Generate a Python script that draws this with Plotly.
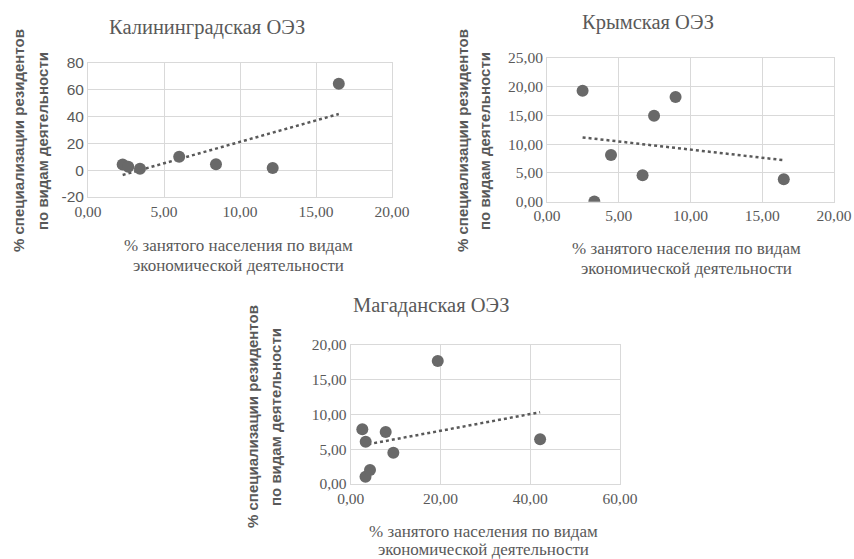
import numpy as np
import plotly.graph_objects as go

# ---- data ----
kal_x = [2.28, 2.65, 3.42, 6.00, 8.42, 12.15, 16.50]
kal_y = [4.3, 2.5, 1.0, 10.0, 4.5, 1.7, 64.6]

krym_x = [2.48, 3.30, 4.46, 6.66, 7.46, 8.96, 16.50]
krym_y = [19.27, 0.05, 8.10, 4.58, 14.93, 18.18, 3.89]

mag_x = [2.59, 3.34, 3.30, 4.30, 7.80, 9.50, 19.40, 42.20]
mag_y = [7.87, 6.09, 1.05, 2.01, 7.48, 4.50, 17.70, 6.43]

kal_xticks = [0, 5, 10, 15, 20]
kal_xlabels = ["0,00", "5,00", "10,00", "15,00", "20,00"]
kal_yticks = [-20, 0, 20, 40, 60, 80]
kal_ylabels = ["-20", "0", "20", "40", "60", "80"]

krym_xticks = [0, 5, 10, 15, 20]
krym_xlabels = ["0,00", "5,00", "10,00", "15,00", "20,00"]
krym_yticks = [0, 5, 10, 15, 20, 25]
krym_ylabels = ["0,00", "5,00", "10,00", "15,00", "20,00", "25,00"]

mag_xticks = [0, 20, 40, 60]
mag_xlabels = ["0,00", "20,00", "40,00", "60,00"]
mag_yticks = [0, 5, 10, 15, 20]
mag_ylabels = ["0,00", "5,00", "10,00", "15,00", "20,00"]

titles = ["Калининградская ОЭЗ", "Крымская ОЭЗ", "Магаданская ОЭЗ"]
xtitle_lines = ["% занятого населения по видам", "экономической деятельности"]
ytitle_lines = ["% специализации резидентов", "по видам деятельности"]

W, H = 854, 559
SERIF = "Liberation Serif, Times New Roman, serif"
SANS = "Liberation Sans Narrow, Liberation Sans, Arial, sans-serif"
TXT = "#595959"
GRID = "#d9d9d9"
MARK = "#696969"

fig = go.Figure()

panels = [
    dict(x=kal_x, y=kal_y, xt=kal_xticks, xl=kal_xlabels, yt=kal_yticks, yl=kal_ylabels,
         px=(88, 392), py=(63, 197), yfont=SANS,
         title=(207, 28), xtit=(239, [245, 265]), ytit=([18, 42], 141)),
    dict(x=krym_x, y=krym_y, xt=krym_xticks, xl=krym_xlabels, yt=krym_yticks, yl=krym_ylabels,
         px=(547, 834), py=(57.7, 201.7), yfont=SERIF,
         title=(648, 22), xtit=(686, [249, 269]), ytit=([462, 484], 141)),
    dict(x=mag_x, y=mag_y, xt=mag_xticks, xl=mag_xlabels, yt=mag_yticks, yl=mag_ylabels,
         px=(350.7, 620), py=(345, 484), yfont=SERIF,
         title=(431, 305), xtit=(484, [531, 549]), ytit=([252, 275], 417)),
]

annotations = []
for i, p in enumerate(panels, start=1):
    xa = "x" if i == 1 else f"x{i}"
    ya = "y" if i == 1 else f"y{i}"
    xs = np.array(p["x"])
    ys = np.array(p["y"])
    k, b = np.polyfit(xs, ys, 1)
    tx = np.array([xs.min(), xs.max()])
    fig.add_trace(go.Scatter(x=tx, y=k * tx + b, mode="lines",
                             line=dict(color=TXT, width=2.5, dash="dot"),
                             xaxis=xa, yaxis=ya, showlegend=False, hoverinfo="skip"))
    fig.add_trace(go.Scatter(x=p["x"], y=p["y"], mode="markers",
                             marker=dict(color=MARK, size=12),
                             xaxis=xa, yaxis=ya, showlegend=False))
    axkey_x = "xaxis" if i == 1 else f"xaxis{i}"
    axkey_y = "yaxis" if i == 1 else f"yaxis{i}"
    fig.layout[axkey_x] = dict(
        domain=[p["px"][0] / W, p["px"][1] / W], anchor=ya, automargin=False,
        range=[p["xt"][0], p["xt"][-1]], tickvals=p["xt"], ticktext=p["xl"],
        showgrid=True, gridcolor=GRID, gridwidth=1, zeroline=False,
        showline=True, linecolor=GRID, mirror=True, ticks="",
        tickfont=dict(family=SERIF, size=15.5, color=TXT), fixedrange=True)
    fig.layout[axkey_y] = dict(
        domain=[1 - p["py"][1] / H, 1 - p["py"][0] / H], anchor=xa, automargin=False,
        range=[p["yt"][0], p["yt"][-1]], tickvals=p["yt"], ticktext=p["yl"],
        showgrid=True, gridcolor=GRID, gridwidth=1, zeroline=False,
        showline=True, linecolor=GRID, mirror=True, ticks="",
        tickfont=dict(family=p["yfont"], size=15.5, color=TXT), fixedrange=True)
    annotations.append(dict(text=titles[i - 1], x=p["title"][0] / W, y=1 - p["title"][1] / H,
                            xref="paper", yref="paper", showarrow=False,
                            xanchor="center", yanchor="middle",
                            font=dict(family=SERIF, size=20.5, color=TXT)))
    for line, ly in zip(xtitle_lines, p["xtit"][1]):
        annotations.append(dict(text=line, x=p["xtit"][0] / W, y=1 - ly / H,
                                xref="paper", yref="paper", showarrow=False,
                                xanchor="center", yanchor="middle",
                                font=dict(family=SERIF, size=17, color=TXT)))
    for line, lx in zip(ytitle_lines, p["ytit"][0]):
        annotations.append(dict(text=line, x=lx / W, y=1 - p["ytit"][1] / H,
                                xref="paper", yref="paper", showarrow=False, textangle=-90,
                                xanchor="center", yanchor="middle",
                                font=dict(family=SANS, size=15, color=TXT, weight="bold")))

fig.update_layout(template="none", width=W, height=H, margin=dict(l=0, r=0, t=0, b=0),
                  paper_bgcolor="white", plot_bgcolor="white",
                  annotations=annotations, showlegend=False)

fig.write_html("out.html", config={"displayModeBar": False},
               post_script="document.body.style.margin='0';document.body.style.overflow='hidden';")
